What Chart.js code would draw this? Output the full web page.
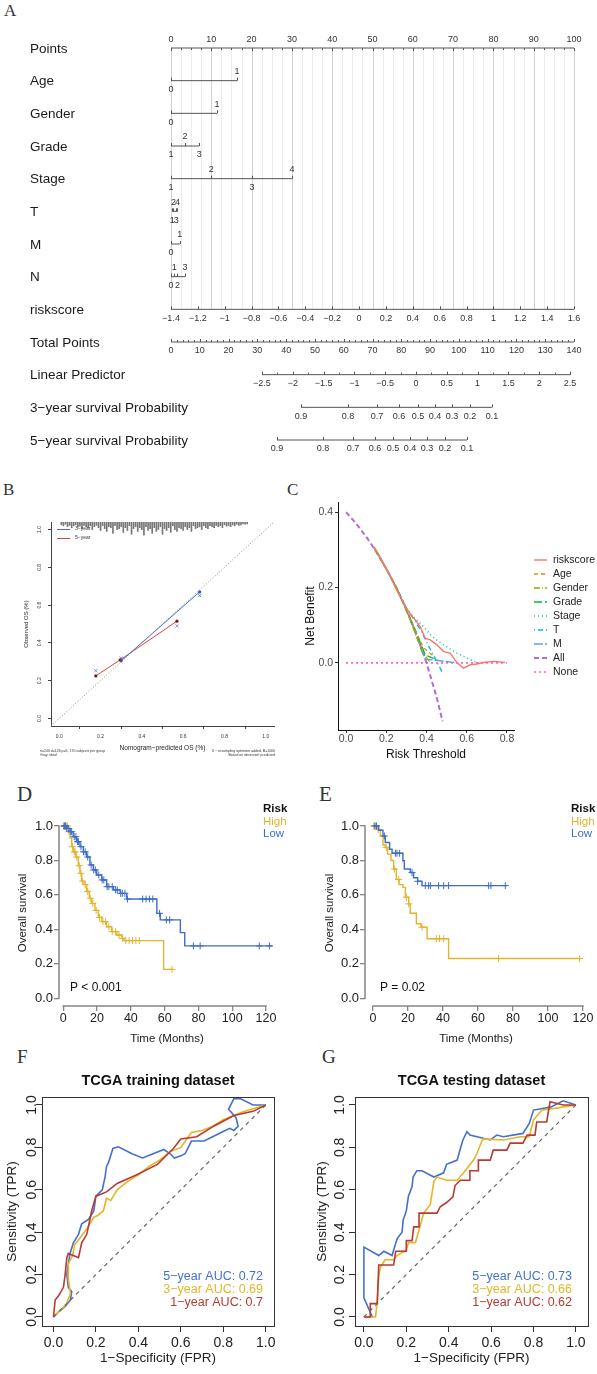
<!DOCTYPE html>
<html>
<head>
<meta charset="utf-8">
<script src="https://cdn.jsdelivr.net/npm/chart.js@4.4.1/dist/chart.umd.min.js"></script>
<style>
  html, body { margin: 0; padding: 0; background: #fff; }
  body { position: relative; width: 597px; height: 1374px; overflow: hidden; }
  canvas { position: absolute; }
  .tag { position: absolute; font-family: "Liberation Serif", "DejaVu Serif", serif; color: #333; line-height: 1; }
</style>
</head>
<body>
<div class="tag" style="left:4px;top:2px;font-size:17px">A</div>
<div class="tag" style="left:3px;top:481px;font-size:17px">B</div>
<div class="tag" style="left:287px;top:481px;font-size:17px">C</div>
<div class="tag" style="left:17px;top:784px;font-size:21px">D</div>
<div class="tag" style="left:319px;top:784px;font-size:21px">E</div>
<div class="tag" style="left:17px;top:1047px;font-size:19px">F</div>
<div class="tag" style="left:322px;top:1047px;font-size:19px">G</div>

<canvas id="cA" width="597" height="475" style="left:0;top:0"></canvas>
<canvas id="cB" width="297" height="290" style="left:0;top:480px"></canvas>
<canvas id="cC" width="300" height="290" style="left:297px;top:480px"></canvas>
<canvas id="cD" width="297" height="280" style="left:0;top:770px"></canvas>
<canvas id="cE" width="300" height="280" style="left:297px;top:770px"></canvas>
<canvas id="cF" width="297" height="324" style="left:0;top:1050px"></canvas>
<canvas id="cG" width="300" height="324" style="left:297px;top:1050px"></canvas>

<script>
// ---- A: nomogram ----
const nomoRows = ['Points', 'Age', 'Gender', 'Grade', 'Stage', 'T', 'M', 'N', 'riskscore', 'Total Points',
  'Linear Predictor', '3\u2212year survival Probability', '5\u2212year survival Probability'];
const pointsTicks = [0, 10, 20, 30, 40, 50, 60, 70, 80, 90, 100];
const ageLevels = ['0', '1'];            const agePts = [0, 16.4];
const genderLevels = ['0', '1'];         const genderPts = [0, 11.4];
const gradeLevels = ['1', '2', '3'];     const gradePts = [0, 3.5, 7.0];
const stageLevels = ['1', '2', '3', '4']; const stagePts = [0, 10.0, 20.1, 30.0];
const tLevels = ['1', '2', '3', '4'];    const tPts = [0.3, 0.6, 1.3, 1.6];
const mLevels = ['0', '1'];              const mPts = [0, 2.2];
const nLevels = ['0', '1', '2', '3'];    const nPts = [0, 0.8, 1.6, 3.5];
const riskscoreTicks = [-1.4, -1.2, -1, -0.8, -0.6, -0.4, -0.2, 0, 0.2, 0.4, 0.6, 0.8, 1, 1.2, 1.4, 1.6];
const totalTicks = [0, 10, 20, 30, 40, 50, 60, 70, 80, 90, 100, 110, 120, 130, 140];
const lpTicks = [-2.5, -2, -1.5, -1, -0.5, 0, 0.5, 1, 1.5, 2, 2.5];
const surv3Labels = ['0.9', '0.8', '0.7', '0.6', '0.5', '0.4', '0.3', '0.2', '0.1'];
const surv3At = [45.2, 61.5, 71.6, 79.2, 85.8, 91.7, 97.6, 103.9, 111.5];   // total points
const surv5Labels = ['0.9', '0.8', '0.7', '0.6', '0.5', '0.4', '0.3', '0.2', '0.1'];
const surv5At = [36.8, 52.8, 63.2, 70.9, 77.1, 83.0, 88.9, 95.2, 102.8];

// ---- B: calibration ----
const calTicks = [0, 0.2, 0.4, 0.6, 0.8, 1];
const cal3Pred = [0.30, 0.68];  const cal3Obs = [0.305, 0.67];
const cal5Pred = [0.177, 0.295, 0.57];  const cal5Obs = [0.225, 0.31, 0.515];
const calCorrPred = [0.177, 0.30, 0.57, 0.68];  const calCorrObs = [0.253, 0.32, 0.49, 0.65];
const rugX = [0.01, 0.02, 0.03, 0.04, 0.05, 0.06, 0.07, 0.08, 0.09, 0.10,
  0.11, 0.12, 0.13, 0.14, 0.15, 0.16, 0.17, 0.18, 0.19, 0.20,
  0.21, 0.22, 0.23, 0.24, 0.25, 0.26, 0.27, 0.28, 0.29, 0.30,
  0.31, 0.32, 0.33, 0.34, 0.35, 0.36, 0.37, 0.38, 0.39, 0.40,
  0.41, 0.42, 0.43, 0.44, 0.45, 0.46, 0.47, 0.48, 0.49, 0.50,
  0.51, 0.52, 0.53, 0.54, 0.55, 0.56, 0.57, 0.58, 0.59, 0.60,
  0.61, 0.62, 0.63, 0.64, 0.65, 0.66, 0.67, 0.68, 0.69, 0.70,
  0.71, 0.72, 0.73, 0.74, 0.75, 0.76, 0.77, 0.78, 0.79, 0.80,
  0.81, 0.82, 0.83, 0.84, 0.85, 0.86, 0.87, 0.88, 0.89, 0.90, 0.91];
const rugH = [0.015, 0.02, 0.012, 0.025, 0.018, 0.03, 0.02, 0.015, 0.028, 0.022,
  0.035, 0.018, 0.025, 0.03, 0.02, 0.04, 0.025, 0.018, 0.03, 0.045,
  0.02, 0.035, 0.05, 0.025, 0.03, 0.06, 0.02, 0.04, 0.035, 0.025,
  0.055, 0.03, 0.045, 0.02, 0.065, 0.035, 0.025, 0.05, 0.03, 0.04,
  0.07, 0.025, 0.045, 0.035, 0.06, 0.03, 0.05, 0.04, 0.025, 0.065,
  0.035, 0.045, 0.03, 0.055, 0.02, 0.04, 0.05, 0.03, 0.035, 0.045,
  0.025, 0.04, 0.03, 0.05, 0.02, 0.035, 0.03, 0.025, 0.04, 0.02,
  0.03, 0.035, 0.02, 0.025, 0.03, 0.018, 0.025, 0.02, 0.03, 0.015,
  0.022, 0.018, 0.025, 0.015, 0.02, 0.012, 0.018, 0.015, 0.01, 0.012, 0.01];

// ---- C: decision curves ----
const dcaXTicks = [0, 0.2, 0.4, 0.6, 0.8];
const dcaYTicks = [0, 0.2, 0.4];
const dcaRiskX = [0.137, 0.16, 0.19, 0.22, 0.25, 0.28, 0.30, 0.32, 0.344, 0.369, 0.394, 0.419, 0.452, 0.485, 0.518, 0.551, 0.584, 0.617, 0.65, 0.68, 0.733, 0.79];
const dcaRiskY = [0.309, 0.29, 0.26, 0.23, 0.195, 0.165, 0.145, 0.13, 0.114, 0.096, 0.065, 0.061, 0.048, 0.03, 0.026, 0.001, -0.014, -0.005, -0.003, 0.001, 0.004, 0.001];
const dcaAgeX = [0.14, 0.2, 0.25, 0.3, 0.34, 0.386, 0.43];       const dcaAgeY = [0.305, 0.25, 0.2, 0.14, 0.09, 0.04, 0.02];
const dcaGenderX = [0.14, 0.2, 0.25, 0.3, 0.34, 0.377, 0.42];    const dcaGenderY = [0.305, 0.25, 0.2, 0.14, 0.085, 0.03, 0.0];
const dcaGradeX = [0.14, 0.2, 0.25, 0.3, 0.35, 0.394, 0.435];    const dcaGradeY = [0.305, 0.25, 0.2, 0.14, 0.08, 0.021, 0.012];
const dcaStageX = [0.14, 0.2, 0.25, 0.3, 0.33, 0.386, 0.427, 0.485, 0.551, 0.634, 0.66];
const dcaStageY = [0.305, 0.25, 0.2, 0.145, 0.125, 0.096, 0.07, 0.048, 0.026, 0.004, 0.0];
const dcaTX = [0.14, 0.2, 0.25, 0.3, 0.32, 0.37, 0.42, 0.477]; const dcaTY = [0.305, 0.25, 0.2, 0.145, 0.13, 0.088, 0.035, -0.023];
const dcaMX = [0.14, 0.2, 0.25, 0.3, 0.394, 0.435, 0.55];      const dcaMY = [0.305, 0.25, 0.2, 0.14, 0.01, 0.008, 0.0];
const dcaAllX = [0, 0.05, 0.1, 0.15, 0.2, 0.25, 0.3, 0.35, 0.4, 0.45, 0.48];
const dcaAllY = [0.4, 0.37, 0.335, 0.295, 0.25, 0.2, 0.143, 0.077, 0.0, -0.09, -0.155];
const dcaNoneX = [0, 0.8];  const dcaNoneY = [0, 0];

// ---- D/E: Kaplan-Meier ----
const kmXTicks = [0, 20, 40, 60, 80, 100, 120];
const kmYTicks = [0, 0.2, 0.4, 0.6, 0.8, 1];
const dHighT = [0, 3.0, 4.0, 5.0, 5.9, 7.5, 8.9, 9.9, 10.9, 12.3, 13.9, 15.4, 16.8, 18.8, 20.8, 22.8, 25.7, 28.7, 31.7, 34.7, 36.0, 59.4, 64.4];
const dHighS = [1.0, 0.967, 0.93, 0.88, 0.85, 0.82, 0.77, 0.725, 0.68, 0.66, 0.62, 0.58, 0.55, 0.51, 0.47, 0.445, 0.415, 0.387, 0.367, 0.348, 0.335, 0.168, 0.168];
const dLowT = [0, 2.0, 4.0, 5.9, 7.9, 9.9, 11.9, 13.9, 15.8, 17.8, 19.8, 22.8, 25.7, 29.7, 33.7, 37.6, 55.4, 57.4, 69.3, 71.9, 123.8];
const dLowS = [1.0, 0.986, 0.967, 0.938, 0.909, 0.88, 0.85, 0.82, 0.774, 0.745, 0.716, 0.687, 0.648, 0.629, 0.609, 0.576, 0.493, 0.455, 0.381, 0.304, 0.304];
const dHighCens = [0.5, 1, 1.5, 2.5, 3.5, 5.5, 6.5, 7, 8, 9.5, 10.5, 11.5, 13, 14.5, 16, 17.5, 19.5, 21.5, 23.5, 25, 27, 29, 31, 33, 35, 37, 39, 41, 43, 45, 64.4];
const dLowCens = [0.5, 1, 1.5, 2, 3, 4.5, 5, 6.5, 7.5, 8.5, 9, 10.5, 12, 13, 14.5, 16.5, 18, 19, 21, 23, 24, 26, 27, 29, 31, 32, 34, 35, 36.5, 38, 47, 49, 51, 53, 57, 61, 63, 77, 81, 116, 122];
const eHighT = [0, 2.3, 4.2, 5.7, 7.0, 8.4, 10.3, 11.8, 13.3, 14.9, 17.1, 18.5, 20.4, 21.3, 24.8, 27.4, 30.9, 43.2, 118.5];
const eHighS = [1.0, 0.98, 0.94, 0.89, 0.875, 0.837, 0.8, 0.75, 0.69, 0.66, 0.644, 0.587, 0.548, 0.494, 0.433, 0.413, 0.346, 0.231, 0.231];
const eLowT = [0, 3.2, 5.7, 7.0, 9.5, 10.9, 17.1, 17.9, 21.3, 23.2, 25.5, 28.0, 76.6];
const eLowS = [1.0, 0.975, 0.942, 0.904, 0.865, 0.842, 0.798, 0.75, 0.73, 0.70, 0.679, 0.654, 0.654];
const eHighCens = [0.5, 1.5, 3, 7.6, 12.2, 14.7, 19, 20.4, 28, 36.2, 38, 40.4, 71.8, 118.1];
const eLowCens = [1, 2, 6.5, 12.8, 13.7, 15.2, 22.3, 25.5, 29.9, 31.8, 32.8, 37.5, 40.4, 43.2, 66.1, 67.4, 75.6];

// ---- F/G: time-dependent ROC ----
const rocTicks = [0, 0.2, 0.4, 0.6, 0.8, 1];
const fRoc5X = [0, 0.02, 0.055, 0.08, 0.086, 0.07, 0.063, 0.07, 0.078, 0.094, 0.118, 0.133, 0.165, 0.19, 0.20, 0.23, 0.243, 0.25, 0.26, 0.28, 0.306, 0.37, 0.42, 0.47, 0.52, 0.55, 0.57, 0.6, 0.62, 0.65, 0.71, 0.75, 0.79, 0.83, 0.85, 0.87, 0.86, 0.825, 0.85, 0.88, 0.94, 1.0];
const fRoc5Y = [0, 0.02, 0.05, 0.08, 0.12, 0.14, 0.2, 0.25, 0.3, 0.35, 0.39, 0.44, 0.46, 0.5, 0.57, 0.6, 0.66, 0.71, 0.73, 0.795, 0.803, 0.77, 0.75, 0.77, 0.79, 0.77, 0.75, 0.76, 0.77, 0.83, 0.83, 0.85, 0.87, 0.89, 0.88, 0.9, 0.94, 0.98, 1.03, 1.03, 1.0, 1.0];
const fRoc3X = [0, 0.03, 0.06, 0.08, 0.07, 0.07, 0.09, 0.1, 0.13, 0.16, 0.19, 0.21, 0.235, 0.25, 0.27, 0.3, 0.35, 0.4, 0.45, 0.5, 0.55, 0.6, 0.65, 0.7, 0.75, 0.8, 0.9, 1.0];
const fRoc3Y = [0, 0.03, 0.06, 0.11, 0.18, 0.25, 0.29, 0.34, 0.38, 0.42, 0.47, 0.48, 0.5, 0.56, 0.55, 0.6, 0.64, 0.67, 0.71, 0.74, 0.78, 0.8, 0.87, 0.88, 0.9, 0.93, 0.97, 1.0];
const fRoc1X = [0, 0.008, 0.024, 0.047, 0.055, 0.063, 0.07, 0.118, 0.133, 0.157, 0.18, 0.2, 0.25, 0.3, 0.39, 0.49, 0.565, 0.6, 0.675, 0.755, 0.85, 0.94, 1.0];
const fRoc1Y = [0, 0.08, 0.1, 0.14, 0.2, 0.28, 0.3, 0.28, 0.35, 0.39, 0.5, 0.57, 0.59, 0.63, 0.67, 0.72, 0.795, 0.84, 0.85, 0.9, 0.95, 0.97, 1.0];
const gRoc5X = [0.04, 0, 0, 0.07, 0.094, 0.133, 0.14, 0.157, 0.18, 0.185, 0.2, 0.21, 0.227, 0.232, 0.25, 0.274, 0.33, 0.376, 0.39, 0.44, 0.455, 0.467, 0.486, 0.5, 0.596, 0.627, 0.658, 0.75, 0.78, 0.8, 0.88, 0.94, 1];
const gRoc5Y = [0, 0.09, 0.33, 0.29, 0.31, 0.29, 0.315, 0.37, 0.4, 0.457, 0.5, 0.57, 0.614, 0.66, 0.69, 0.69, 0.66, 0.68, 0.72, 0.74, 0.795, 0.835, 0.874, 0.858, 0.835, 0.858, 0.85, 0.866, 0.913, 0.976, 0.99, 1.02, 1];
const gRoc3X = [0, 0.055, 0.063, 0.07, 0.078, 0.1, 0.14, 0.157, 0.2, 0.21, 0.243, 0.26, 0.282, 0.313, 0.33, 0.345, 0.39, 0.44, 0.47, 0.517, 0.533, 0.556, 0.564, 0.658, 0.737, 0.78, 0.8, 0.84, 0.9, 1];
const gRoc3Y = [0, 0, 0.08, 0.19, 0.236, 0.27, 0.27, 0.29, 0.315, 0.35, 0.35, 0.41, 0.49, 0.53, 0.64, 0.66, 0.645, 0.645, 0.68, 0.74, 0.77, 0.83, 0.84, 0.835, 0.85, 0.85, 0.93, 0.976, 0.984, 1];
const gRoc1X = [0, 0.03, 0.03, 0.063, 0.07, 0.14, 0.15, 0.2, 0.2, 0.227, 0.235, 0.26, 0.26, 0.345, 0.36, 0.39, 0.42, 0.43, 0.455, 0.5, 0.5, 0.54, 0.54, 0.596, 0.61, 0.674, 0.69, 0.75, 0.77, 0.807, 0.815, 0.862, 0.878, 0.94, 1];
const gRoc1Y = [0, 0, 0.063, 0.063, 0.245, 0.245, 0.31, 0.31, 0.36, 0.36, 0.425, 0.425, 0.49, 0.49, 0.52, 0.54, 0.567, 0.62, 0.645, 0.645, 0.69, 0.69, 0.74, 0.74, 0.787, 0.787, 0.82, 0.82, 0.858, 0.858, 0.92, 0.92, 1.015, 1, 1];

// ---------------- helpers ----------------
const FAM = '"Liberation Sans", Arial, Helvetica, sans-serif';
Chart.defaults.font.family = FAM;
Chart.defaults.color = '#222';
Chart.defaults.animation = false;
Chart.defaults.responsive = false;
Chart.defaults.events = [];
Chart.defaults.plugins.legend.display = false;
Chart.defaults.plugins.tooltip.enabled = false;

const F = (size, bold) => (bold ? 'bold ' : '') + size + 'px ' + FAM;
function txt(ctx, s, x, y, font, color, align, base, rot) {
  ctx.save();
  ctx.font = font; ctx.fillStyle = color;
  ctx.textAlign = align || 'left'; ctx.textBaseline = base || 'middle';
  ctx.translate(x, y);
  if (rot) ctx.rotate(rot);
  ctx.fillText(s, 0, 0);
  ctx.restore();
}
const minus = v => String(v).replace('-', '\u2212');
const fixW = w => s => { s.width = w; };
const fixH = h => s => { s.height = h; };
const useTicks = vals => s => { s.ticks = vals.map(v => ({ value: v })); };
const xy = (xs, ys) => xs.map((x, i) => ({ x, y: ys[i] }));
const steps = (a, b, s) => Array.from({ length: Math.round((b - a) / s) + 1 }, (_, i) => +(a + i * s).toFixed(4));
const kmAt = (ts, ss, t) => { let v = ss[0]; ts.forEach((tt, i) => { if (tt <= t) v = ss[i]; }); return v; };

// ---------------- A ----------------
const nomoAxes = [
  { row: 0, axis: 'x', vals: pointsTicks, labels: pointsTicks.map(String), minor: steps(0, 100, 2.5), dir: 1, above: true },
  { row: 8, axis: 'xRisk', vals: riskscoreTicks, labels: riskscoreTicks.map(minus), minor: [], dir: -1, above: false },
  { row: 9, axis: 'xTotal', vals: totalTicks, labels: totalTicks.map(String), minor: steps(0, 140, 2), dir: -1, above: false },
  { row: 10, axis: 'xLP', vals: lpTicks, labels: lpTicks.map(minus), minor: steps(-2.5, 2.5, 0.25), dir: -1, above: false },
  { row: 11, axis: 'xTotal', vals: surv3At, labels: surv3Labels, minor: [], dir: -1, above: false },
  { row: 12, axis: 'xTotal', vals: surv5At, labels: surv5Labels, minor: [], dir: -1, above: false }
];
const nomoFactors = [
  { row: 1, levels: ageLevels, pts: agePts },
  { row: 2, levels: genderLevels, pts: genderPts },
  { row: 3, levels: gradeLevels, pts: gradePts },
  { row: 4, levels: stageLevels, pts: stagePts },
  { row: 5, levels: tLevels, pts: tPts },
  { row: 6, levels: mLevels, pts: mPts },
  { row: 7, levels: nLevels, pts: nPts }
];
const segRow = (row, axis, vals) => ({
  type: 'line', xAxisID: axis, yAxisID: 'y',
  data: [{ x: Math.min(...vals), y: row }, { x: Math.max(...vals), y: row }],
  borderColor: '#555', borderWidth: 1, pointRadius: 0, clip: false
});

const nomoPlugin = {
  id: 'nomo',
  beforeDatasetsDraw(chart) {
    const { ctx, scales } = chart, x = scales.x, y = scales.y;
    const y0 = y.getPixelForValue(0), y1 = y.getPixelForValue(8);
    ctx.save(); ctx.lineWidth = 1;
    steps(0, 100, 2.5).forEach((p, k) => {
      const px = Math.round(x.getPixelForValue(p)) + 0.5;
      ctx.strokeStyle = k % 4 === 0 ? '#d2d2d2' : '#ececec';
      ctx.beginPath(); ctx.moveTo(px, y0); ctx.lineTo(px, y1); ctx.stroke();
    });
    ctx.restore();
  },
  afterDatasetsDraw(chart) {
    const { ctx, scales } = chart, y = scales.y;
    nomoRows.forEach((name, i) => txt(ctx, name, 30, y.getPixelForValue(i) + 1, F(13.5), '#1a1a1a', 'left', 'middle'));
    ctx.save(); ctx.strokeStyle = '#555'; ctx.lineWidth = 1;
    const tick = (px, py, d) => {
      const xx = Math.round(px) + 0.5;
      ctx.beginPath(); ctx.moveTo(xx, py); ctx.lineTo(xx, py + d); ctx.stroke();
    };
    nomoAxes.forEach(a => {
      const sc = scales[a.axis], py = y.getPixelForValue(a.row);
      a.minor.forEach(v => tick(sc.getPixelForValue(v), py, a.dir * 2));
      a.vals.forEach((v, i) => {
        const px = sc.getPixelForValue(v);
        tick(px, py, a.dir * 3);
        txt(ctx, a.labels[i], px, py + (a.above ? -8.5 : 9), F(9), '#333', 'center', 'middle');
      });
    });
    nomoFactors.forEach(f => {
      const sc = scales.x, py = y.getPixelForValue(f.row);
      f.pts.forEach((p, i) => {
        const px = sc.getPixelForValue(p);
        tick(px, py, -3);
        txt(ctx, f.levels[i], px, py + (i % 2 ? -9 : 9), F(9), '#333', 'center', 'middle');
      });
    });
    ctx.restore();
  }
};

new Chart(document.getElementById('cA'), {
  type: 'line',
  data: {
    datasets: [
      ...nomoAxes.map(a => segRow(a.row, a.axis, a.vals)),
      ...nomoFactors.map(f => segRow(f.row, 'x', f.pts))
    ]
  },
  options: {
    layout: { padding: { left: 171, right: 23, top: 48, bottom: 35 } },
    scales: {
      x: { type: 'linear', min: 0, max: 100, display: false },
      xRisk: { type: 'linear', axis: 'x', min: -1.4, max: 1.6, display: false },
      xTotal: { type: 'linear', axis: 'x', min: 0, max: 140, display: false },
      xLP: { type: 'linear', axis: 'x', min: -3.977, max: 2.565, display: false },
      y: { type: 'linear', min: 0, max: 12, reverse: true, display: false }
    }
  },
  plugins: [nomoPlugin]
});

// ---------------- B ----------------
const calPlugin = {
  id: 'cal',
  afterDraw(chart) {
    const { ctx, scales: { y } } = chart;
    y.ticks.forEach(t => txt(ctx, t.value.toFixed(1), 40, y.getPixelForValue(t.value), F(5), '#333', 'center', 'middle', -Math.PI / 2));
    const ds = chart.data.datasets;
    [[ds[2], '3\u2212year', 49], [ds[3], '5\u2212year', 58]].forEach(([d, label, yy]) => {
      ctx.save(); ctx.strokeStyle = d.borderColor; ctx.lineWidth = 1;
      ctx.beginPath(); ctx.moveTo(57, yy + 0.5); ctx.lineTo(70, yy + 0.5); ctx.stroke(); ctx.restore();
      txt(ctx, label, 75, yy, F(5), '#333', 'left', 'middle');
    });
    txt(ctx, 'n=240 d=126 p=6, 170 subjects per group', 40, 271, F(3.5), '#333', 'left', 'middle');
    txt(ctx, 'Gray: ideal', 40, 275, F(3.5), '#333', 'left', 'middle');
    txt(ctx, 'X \u2212 resampling optimism added, B=1000', 275, 271, F(3.5), '#333', 'right', 'middle');
    txt(ctx, 'Based on observed\u2212predicted', 275, 275, F(3.5), '#333', 'right', 'middle');
  }
};
new Chart(document.getElementById('cB'), {
  type: 'line',
  data: {
    datasets: [
      { type: 'bar', data: rugX.map((x, i) => ({ x, y: [1.04 - rugH[i], 1.04] })), backgroundColor: '#777', barThickness: 1, borderWidth: 0 },
      { data: [{ x: -0.04, y: -0.04 }, { x: 1.04, y: 1.04 }], borderColor: '#8a8a8a', borderWidth: 1, borderDash: [1, 2], pointRadius: 0 },
      { data: xy(cal3Pred, cal3Obs), borderColor: '#3f6fd0', backgroundColor: '#2f55b8', borderWidth: 1, pointRadius: 1.6, pointBorderWidth: 0 },
      { data: xy(cal5Pred, cal5Obs), borderColor: '#d8473a', backgroundColor: '#8b1010', borderWidth: 1, pointRadius: 1.6, pointBorderWidth: 0 },
      { data: xy(calCorrPred, calCorrObs), showLine: false, pointStyle: 'crossRot', pointRadius: 2.3, borderColor: '#5a7ad0', borderWidth: 0.8 }
    ]
  },
  options: {
    layout: { padding: { left: 0, right: 23, top: 42, bottom: 0 } },
    scales: {
      x: {
        type: 'linear', min: -0.04, max: 1.04, offset: false, afterFit: fixH(44), afterBuildTicks: useTicks(calTicks),
        ticks: { callback: v => v.toFixed(1), font: { size: 5 }, color: '#333', padding: 5, maxRotation: 0, autoSkip: false },
        grid: { drawOnChartArea: false, tickLength: 3, color: '#444' }, border: { color: '#444', width: 1 },
        title: { display: true, text: 'Nomogram\u2212predicted OS (%)', font: { size: 6.5 }, color: '#222', padding: { top: 0, bottom: 18 } }
      },
      y: {
        type: 'linear', min: -0.04, max: 1.04, afterFit: fixW(51), afterBuildTicks: useTicks(calTicks),
        ticks: { display: false },
        grid: { drawOnChartArea: false, tickLength: 3, color: '#444' }, border: { color: '#444', width: 1 },
        title: { display: true, text: 'Observed OS (%)', font: { size: 6 }, color: '#222', padding: { top: 23, bottom: 0 } }
      }
    }
  },
  plugins: [calPlugin]
});

// ---------------- C ----------------
const dcaSeries = [
  ['riskscore', dcaRiskX, dcaRiskY, '#F8766D', [], 1.4],
  ['Age', dcaAgeX, dcaAgeY, '#D39200', [4, 3], 1.3],
  ['Gender', dcaGenderX, dcaGenderY, '#93AA00', [6, 2, 1, 2], 1.3],
  ['Grade', dcaGradeX, dcaGradeY, '#00BA38', [8, 3], 1.3],
  ['Stage', dcaStageX, dcaStageY, '#00C19F', [1, 3], 1.5],
  ['T', dcaTX, dcaTY, '#00B9E3', [1, 3, 5, 3], 1.4],
  ['M', dcaMX, dcaMY, '#619CFF', [9, 2], 1.4],
  ['All', dcaAllX, dcaAllY, '#B06CD8', [5, 3], 2],
  ['None', dcaNoneX, dcaNoneY, '#FF61C3', [2, 3], 1.6]
];
const dcaLegend = {
  id: 'dcaLegend',
  afterDraw(chart) {
    const ctx = chart.ctx;
    chart.data.datasets.forEach((d, i) => {
      const yy = 80 + 14 * i;
      ctx.save(); ctx.strokeStyle = d.borderColor; ctx.lineWidth = d.borderWidth; ctx.setLineDash(d.borderDash);
      ctx.beginPath(); ctx.moveTo(237, yy); ctx.lineTo(250, yy); ctx.stroke(); ctx.restore();
      txt(ctx, d.label, 256, yy, F(10.5), '#222', 'left', 'middle');
    });
  }
};
new Chart(document.getElementById('cC'), {
  type: 'line',
  data: {
    datasets: dcaSeries.map(([label, xs, ys, c, dash, w]) => ({
      label, data: xy(xs, ys), borderColor: c, borderDash: dash, borderWidth: w, pointRadius: 0, tension: 0
    }))
  },
  options: {
    layout: { padding: { left: 4, right: 83, top: 22, bottom: 0 } },
    scales: {
      x: {
        type: 'linear', min: -0.04, max: 0.835, afterFit: fixH(40), afterBuildTicks: useTicks(dcaXTicks),
        ticks: { callback: v => v.toFixed(1), font: { size: 10.5 }, color: '#4d4d4d', padding: 0, maxRotation: 0, autoSkip: false },
        grid: { drawOnChartArea: false, tickLength: 3, color: '#333' }, border: { color: '#111', width: 1 },
        title: { display: true, text: 'Risk Threshold', font: { size: 12 }, color: '#111', padding: { top: 0, bottom: 8 } }
      },
      y: {
        type: 'linear', min: -0.178, max: 0.427, afterFit: fixW(37), afterBuildTicks: useTicks(dcaYTicks),
        ticks: { callback: v => v.toFixed(1), font: { size: 10.5 }, color: '#4d4d4d', padding: 2 },
        grid: { drawOnChartArea: false, tickLength: 3, color: '#333' }, border: { color: '#111', width: 1 },
        title: { display: true, text: 'Net Benefit', font: { size: 12 }, color: '#111', padding: { top: 2, bottom: 0 } }
      }
    }
  },
  plugins: [dcaLegend]
});

// ---------------- D / E ----------------
const GOLD = '#E2B42C', BLUE = '#3D6DC8';
const kmPlugin = {
  id: 'km',
  afterDraw(chart, args, o) {
    const { ctx, chartArea: a, scales: { x, y } } = chart;
    ctx.save(); ctx.strokeStyle = '#858585'; ctx.lineWidth = 1.5;
    ctx.beginPath();
    ctx.moveTo(a.left, y.getPixelForValue(kmYTicks[kmYTicks.length - 1]) - 0.75);
    ctx.lineTo(a.left, y.getPixelForValue(kmYTicks[0]) + 0.75);
    ctx.moveTo(x.getPixelForValue(kmXTicks[0]) - 0.75, a.bottom);
    ctx.lineTo(x.getPixelForValue(kmXTicks[kmXTicks.length - 1]) + 0.75, a.bottom);
    ctx.stroke(); ctx.restore();
    txt(ctx, 'Risk', o.legX, 39, F(11.5, true), '#111', 'left', 'middle');
    txt(ctx, 'High', o.legX, 52, F(11.5), GOLD, 'left', 'middle');
    txt(ctx, 'Low', o.legX, 64, F(11.5), BLUE, 'left', 'middle');
    txt(ctx, o.p, o.pX, 218, F(12), '#111', 'left', 'middle');
  }
};
function kmChart(id, hT, hS, lT, lS, hC, lC, xmin, xmax, yW, titlePad, padRight, opts) {
  const curve = (T, S, c) => ({ data: xy(T, S), borderColor: c, borderWidth: 1.4, pointRadius: 0, stepped: 'before' });
  const cens = (C, T, S, c) => ({
    data: C.map(t => ({ x: t, y: kmAt(T, S, t) })), showLine: false,
    pointStyle: 'cross', pointRadius: 3.5, borderColor: c, borderWidth: 1
  });
  const axisGrid = { drawOnChartArea: false, tickLength: 5, color: '#858585', lineWidth: 1.3 };
  new Chart(document.getElementById(id), {
    type: 'line',
    data: { datasets: [curve(lT, lS, BLUE), cens(lC, lT, lS, BLUE), curve(hT, hS, GOLD), cens(hC, hT, hS, GOLD)] },
    options: {
      layout: { padding: { left: 0, right: padRight, top: 50, bottom: 0 } },
      scales: {
        x: {
          type: 'linear', min: xmin, max: xmax, afterFit: fixH(44), afterBuildTicks: useTicks(kmXTicks),
          ticks: { font: { size: 12.5 }, color: '#222', padding: 0, maxRotation: 0, autoSkip: false },
          grid: axisGrid, border: { display: false },
          title: { display: true, text: 'Time (Months)', font: { size: 11.5 }, color: '#222', padding: { top: 0, bottom: 4 } }
        },
        y: {
          type: 'linear', min: -0.0447, max: 1.0348, afterFit: fixW(yW), afterBuildTicks: useTicks(kmYTicks),
          ticks: { callback: v => v.toFixed(1), font: { size: 13 }, color: '#222', padding: 1 },
          grid: axisGrid, border: { display: false },
          title: { display: true, text: 'Overall survival', font: { size: 11.5 }, color: '#222', padding: { top: titlePad, bottom: 0 } }
        }
      },
      plugins: { km: opts }
    },
    plugins: [kmPlugin]
  });
}
kmChart('cD', dHighT, dHighS, dLowT, dLowS, dHighCens, dLowCens, -2.5, 125.3, 59, 16, 22, { legX: 263, p: 'P < 0.001', pX: 70 });
kmChart('cE', eHighT, eHighS, eLowT, eLowS, eHighCens, eLowCens, -4.57, 122.3, 68, 26, 10, { legX: 274, p: 'P = 0.02', pX: 83 });

// ---------------- F / G ----------------
const R_BLUE = '#4470CD', R_GOLD = '#E5B526', R_RED = '#B83A32';
const rocPlugin = {
  id: 'roc',
  afterDraw(chart, args, o) {
    const { ctx, chartArea: a, scales: { y } } = chart;
    ctx.save(); ctx.strokeStyle = '#333'; ctx.lineWidth = 1;
    ctx.strokeRect(Math.round(a.left) + 0.5, Math.round(a.top) + 0.5, Math.round(a.right - a.left), Math.round(a.bottom - a.top));
    ctx.restore();
    y.ticks.forEach(t => txt(ctx, t.value.toFixed(1), a.left - o.labGap, y.getPixelForValue(t.value), F(14), '#222', 'center', 'middle', -Math.PI / 2));
    txt(ctx, o.title, (a.left + a.right) / 2, 31, F(14.5, true), '#111', 'center', 'middle');
    o.legend.forEach((s, i) => txt(ctx, s, o.legX, 227 + 13 * i, F(12.5), [R_BLUE, R_GOLD, R_RED][i], 'right', 'middle'));
  }
};
function rocChart(id, s5x, s5y, s3x, s3y, s1x, s1y, xmin, xmax, yW, titlePad, padRight, opts) {
  const line = (xs, ys, c) => ({ data: xy(xs, ys), borderColor: c, borderWidth: 1.6, pointRadius: 0 });
  const tickGrid = { drawOnChartArea: false, tickLength: 6, color: '#333' };
  new Chart(document.getElementById(id), {
    type: 'line',
    data: {
      datasets: [
        { data: [{ x: 0, y: 0 }, { x: 1, y: 1 }], borderColor: '#666', borderWidth: 1.2, borderDash: [4, 4], pointRadius: 0 },
        line(s1x, s1y, R_RED), line(s3x, s3y, R_GOLD), line(s5x, s5y, R_BLUE)
      ]
    },
    options: {
      layout: { padding: { left: 0, right: padRight, top: 47, bottom: 0 } },
      scales: {
        x: {
          type: 'linear', min: xmin, max: xmax, afterFit: fixH(48), afterBuildTicks: useTicks(rocTicks),
          ticks: { callback: v => v.toFixed(1), font: { size: 14 }, color: '#222', padding: 3, maxRotation: 0, autoSkip: false },
          grid: tickGrid, border: { display: false },
          title: { display: true, text: '1\u2212Specificity (FPR)', font: { size: 13.5 }, color: '#222', padding: { top: 0, bottom: 8 } }
        },
        y: {
          type: 'linear', min: -0.0425, max: 1.0377, afterFit: fixW(yW), afterBuildTicks: useTicks(rocTicks),
          ticks: { display: false },
          grid: tickGrid, border: { display: false },
          title: { display: true, text: 'Sensitivity (TPR)', font: { size: 13.5 }, color: '#222', padding: { top: titlePad, bottom: 0 } }
        }
      },
      plugins: { roc: opts }
    },
    plugins: [rocPlugin]
  });
}
rocChart('cF', fRoc5X, fRoc5Y, fRoc3X, fRoc3Y, fRoc1X, fRoc1Y, -0.054, 1.039, 42, 4, 23,
  { title: 'TCGA training dataset', labGap: 10, legX: 263, legend: ['5\u2212year AUC: 0.72', '3\u2212year AUC: 0.69', '1\u2212year AUC: 0.7'] });
rocChart('cG', gRoc5X, gRoc5Y, gRoc3X, gRoc3Y, gRoc1X, gRoc1Y, -0.042, 1.057, 58, 17, 9,
  { title: 'TCGA testing dataset', labGap: 15, legX: 275, legend: ['5\u2212year AUC: 0.73', '3\u2212year AUC: 0.66', '1\u2212year AUC: 0.62'] });
</script>
</body>
</html>
